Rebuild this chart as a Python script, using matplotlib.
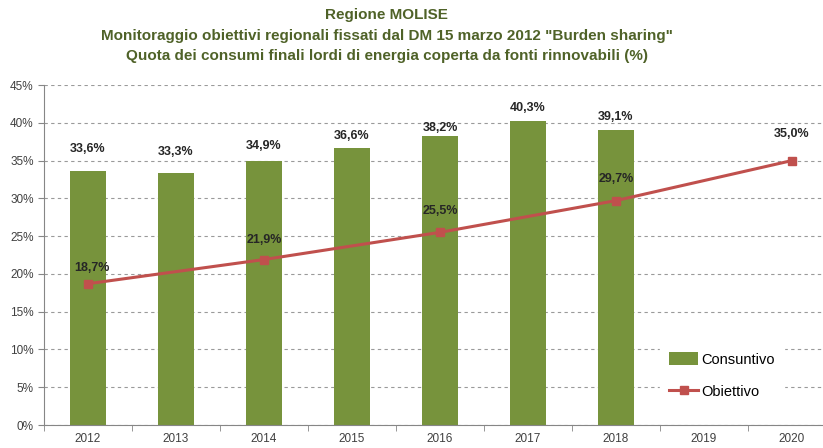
import matplotlib
matplotlib.use("Agg")
import matplotlib.pyplot as plt
import numpy as np
from matplotlib.lines import Line2D
from matplotlib.patches import Patch
from matplotlib.ticker import FuncFormatter, FixedLocator

years = ["2012", "2013", "2014", "2015", "2016", "2017", "2018", "2019", "2020"]
consuntivo = [33.6, 33.3, 34.9, 36.6, 38.2, 40.3, 39.1]
obiettivo_years = ["2012", "2014", "2016", "2018", "2020"]
obiettivo = [18.7, 21.9, 25.5, 29.7, 35.0]

title_lines = ["Regione MOLISE",
               "Monitoraggio obiettivi regionali fissati dal DM 15 marzo 2012 \"Burden sharing\"",
               "Quota dei consumi finali lordi di energia coperta da fonti rinnovabili (%)"]

plt.rcParams['font.family'] = ['Liberation Sans Narrow', 'Liberation Sans', 'DejaVu Sans']

fig = plt.figure(figsize=(8.23, 4.48), dpi=100)
ax = fig.add_axes([44/823, 1-425/448, 1-44/823, (425-85)/448])

x = np.arange(len(years))
xb = x[:len(consuntivo)]
ax.bar(xb, consuntivo, width=0.4, color="#77933C", zorder=2)
xo = [years.index(y) for y in obiettivo_years]
ax.plot(xo, obiettivo, color="#C0504D", lw=2.2, marker="s", ms=6, zorder=3)

bar_off = [11.5, 11, 6.5, 4.5, 1.5, 4.5, 4.5]
for xi, v, o in zip(xb, consuntivo, bar_off):
    ax.annotate(f"{v:.1f}%".replace(".", ","), (xi, v), xytext=(0, o), textcoords="offset points",
                ha="center", va="bottom", fontsize=9, fontweight="bold", color="#262626")
line_off = [(3, 7), (0, 9.5), (0, 11), (0, 11.5), (0, 15)]
for xi, v, o in zip(xo, obiettivo, line_off):
    ax.annotate(f"{v:.1f}%".replace(".", ","), (xi, v), xytext=o, textcoords="offset points",
                ha="center", va="bottom", fontsize=9, fontweight="bold", color="#262626")

ax.set_xlim(-0.5, -0.5 + (823-44)/88)
ax.set_ylim(0, 45)
ax.set_yticks(np.arange(0, 46, 5))
ax.yaxis.set_major_formatter(FuncFormatter(lambda v, p: f"{v:.0f}%"))
ax.set_xticks(x)
ax.set_xticklabels(years)
ax.xaxis.set_minor_locator(FixedLocator(np.arange(-0.5, 9, 1)))
ax.tick_params(axis="x", which="major", length=0, labelsize=8.5, labelcolor="#404040", pad=6)
ax.tick_params(axis="x", which="minor", length=4, color="#868686", direction="out")
ax.tick_params(axis="y", length=4, color="#868686", labelsize=8.5, labelcolor="#404040")
ax.grid(axis="y", color="#9a9a9a", linestyle=(0, (3, 3)), lw=0.8, zorder=0)
ax.set_axisbelow(True)
for s in ["top", "right"]:
    ax.spines[s].set_visible(False)
for s in ["left", "bottom"]:
    ax.spines[s].set_color("#868686")

handles = [Patch(facecolor="#77933C", label="Consuntivo"),
           Line2D([0], [0], color="#C0504D", lw=2.2, marker="s", ms=6, label="Obiettivo")]
leg = ax.legend(handles=handles, loc="center left", bbox_to_anchor=(0.782, 0.145),
                frameon=True, fontsize=10.5, handlelength=2.0, handleheight=1.0, labelspacing=1.2,
                borderpad=0.6, handletextpad=0.2)
leg.get_frame().set_edgecolor("white")
leg.get_frame().set_facecolor("white")
leg.get_frame().set_alpha(1)

fig.text(0.47, 0.982, "\n".join(title_lines), ha="center", va="top", fontsize=11,
         fontweight="bold", color="#4F6228", linespacing=1.6)

fig.savefig("out.png", dpi=100)
